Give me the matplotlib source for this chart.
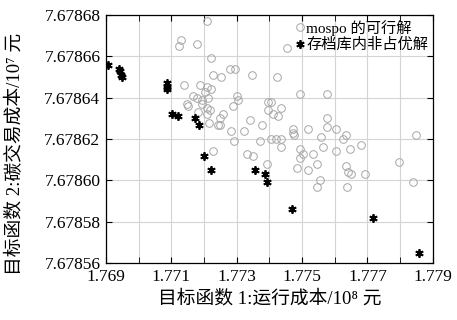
import matplotlib.pyplot as plt
from matplotlib.ticker import FixedLocator, MultipleLocator, FormatStrFormatter

plt.rcParams['font.family'] = ['Liberation Serif', 'Noto Sans CJK SC']
plt.rcParams['axes.unicode_minus'] = False

# mospo feasible solutions (x: 10^8 yuan, y: 10^7 yuan)
feasible_x = [1.77208, 1.77129, 1.77124, 1.77177, 1.77453, 1.77220, 1.77226, 1.77252,
              1.77279, 1.77295, 1.77346, 1.77424, 1.77139, 1.77187, 1.77208, 1.77220,
              1.77203, 1.77167, 1.77179, 1.77193, 1.77213, 1.77300, 1.77305, 1.77493,
              1.77577, 1.77147, 1.77152, 1.77193, 1.77396, 1.77404, 1.77289, 1.77208,
              1.77218, 1.77396, 1.77412, 1.77437, 1.77427, 1.77259, 1.77249, 1.77208,
              1.77340, 1.77376, 1.77577, 1.77519, 1.77575, 1.77603, 1.77473, 1.77216,
              1.77243, 1.77249, 1.77282, 1.77323, 1.77292, 1.77371, 1.77404, 1.77419,
              1.77437, 1.77435, 1.77473, 1.77476, 1.77558, 1.77634, 1.77626, 1.77563,
              1.77495, 1.77503, 1.77532, 1.77493, 1.77603, 1.77646, 1.77680, 1.77228,
              1.77330, 1.77349, 1.77393, 1.77485, 1.77517, 1.77546, 1.77634, 1.77641,
              1.77649, 1.77692, 1.77797, 1.77850, 1.77840, 1.77554, 1.77547, 1.77638,
              1.77180]
feasible_y = [7.678677, 7.678668, 7.678665, 7.678666, 7.678664, 7.678659, 7.678651, 7.678650,
              7.678654, 7.678654, 7.678651, 7.678650, 7.678646, 7.678646, 7.678645, 7.678644,
              7.678643, 7.678641, 7.678640, 7.678639, 7.678640, 7.678641, 7.678639, 7.678642,
              7.678642, 7.678637, 7.678636, 7.678637, 7.678638, 7.678638, 7.678636, 7.678635,
              7.678634, 7.678634, 7.678632, 7.678635, 7.678631, 7.678632, 7.678630, 7.678632,
              7.678629, 7.678627, 7.678630, 7.678625, 7.678626, 7.678625, 7.678625, 7.678628,
              7.678627, 7.678627, 7.678624, 7.678624, 7.678619, 7.678619, 7.678620, 7.678620,
              7.678620, 7.678616, 7.678623, 7.678622, 7.678621, 7.678622, 7.678620, 7.678616,
              7.678615, 7.678613, 7.678613, 7.678611, 7.678614, 7.678615, 7.678617, 7.678614,
              7.678613, 7.678612, 7.678608, 7.678606, 7.678605, 7.678608, 7.678607, 7.678604,
              7.678603, 7.678603, 7.678609, 7.678622, 7.678599, 7.678600, 7.678597, 7.678597,
              7.678633]

# non-dominated solutions in the archive
archive_x = [1.76906, 1.76940, 1.76943, 1.76946, 1.76949, 1.77088, 1.77088, 1.77088,
             1.77103, 1.77121, 1.77172, 1.77185, 1.77200, 1.77222, 1.77356, 1.77388,
             1.77393, 1.77470, 1.77717, 1.77857]
archive_y = [7.678656, 7.678654, 7.678653, 7.678651, 7.678650, 7.678647, 7.678645, 7.678644,
             7.678632, 7.678631, 7.678630, 7.678627, 7.678612, 7.678605, 7.678605, 7.678603,
             7.678599, 7.678586, 7.678582, 7.678565]

x_ticks = [1.769, 1.771, 1.773, 1.775, 1.777, 1.779]
y_ticks = [7.67856, 7.67858, 7.67860, 7.67862, 7.67864, 7.67866, 7.67868]

fig = plt.figure(figsize=(4.57, 3.2), dpi=100)
ax = fig.add_axes([0.232, 0.178, 0.715, 0.775])

ax.plot(feasible_x, feasible_y, linestyle='none', marker='o', markersize=5.5,
        markerfacecolor='none', markeredgecolor='#a6a6a6', markeredgewidth=0.7,
        label='mospo 的可行解')
ax.plot(archive_x, archive_y, linestyle='none', marker=(6, 2, 0), markersize=6,
        color='black', markeredgewidth=1.3, label='存档库内非占优解')

ax.set_xlim(1.769, 1.779)
ax.set_ylim(7.67856, 7.67868)
ax.xaxis.set_major_locator(FixedLocator(x_ticks))
ax.xaxis.set_minor_locator(MultipleLocator(0.001))
ax.yaxis.set_major_locator(FixedLocator(y_ticks))
ax.xaxis.set_major_formatter(FormatStrFormatter('%.3f'))
ax.yaxis.set_major_formatter(FormatStrFormatter('%.5f'))
ax.grid(True, which='both', axis='x', color='#d4d4d4', linewidth=0.8)
ax.grid(True, which='major', axis='y', color='#d4d4d4', linewidth=0.8)
ax.set_axisbelow(True)
ax.tick_params(which='both', direction='in', top=True, right=True, labelsize=12.5)
ax.tick_params(which='major', length=4, pad=4)
ax.tick_params(which='minor', length=4)
for s in ax.spines.values():
    s.set_linewidth(0.9)

ax.set_xlabel('目标函数 1:运行成本/10⁸ 元', fontsize=13.5, labelpad=4)
ax.set_ylabel('目标函数 2:碳交易成本/10⁷ 元', fontsize=13.5)
ax.yaxis.set_label_coords(-0.252, 0.44)

ax.legend(loc='upper right', frameon=False, fontsize=11, handlelength=0.6,
          handletextpad=0.1, borderaxespad=0.1, labelspacing=0.15,
          borderpad=0.2)

fig.savefig('out.png', dpi=100)
